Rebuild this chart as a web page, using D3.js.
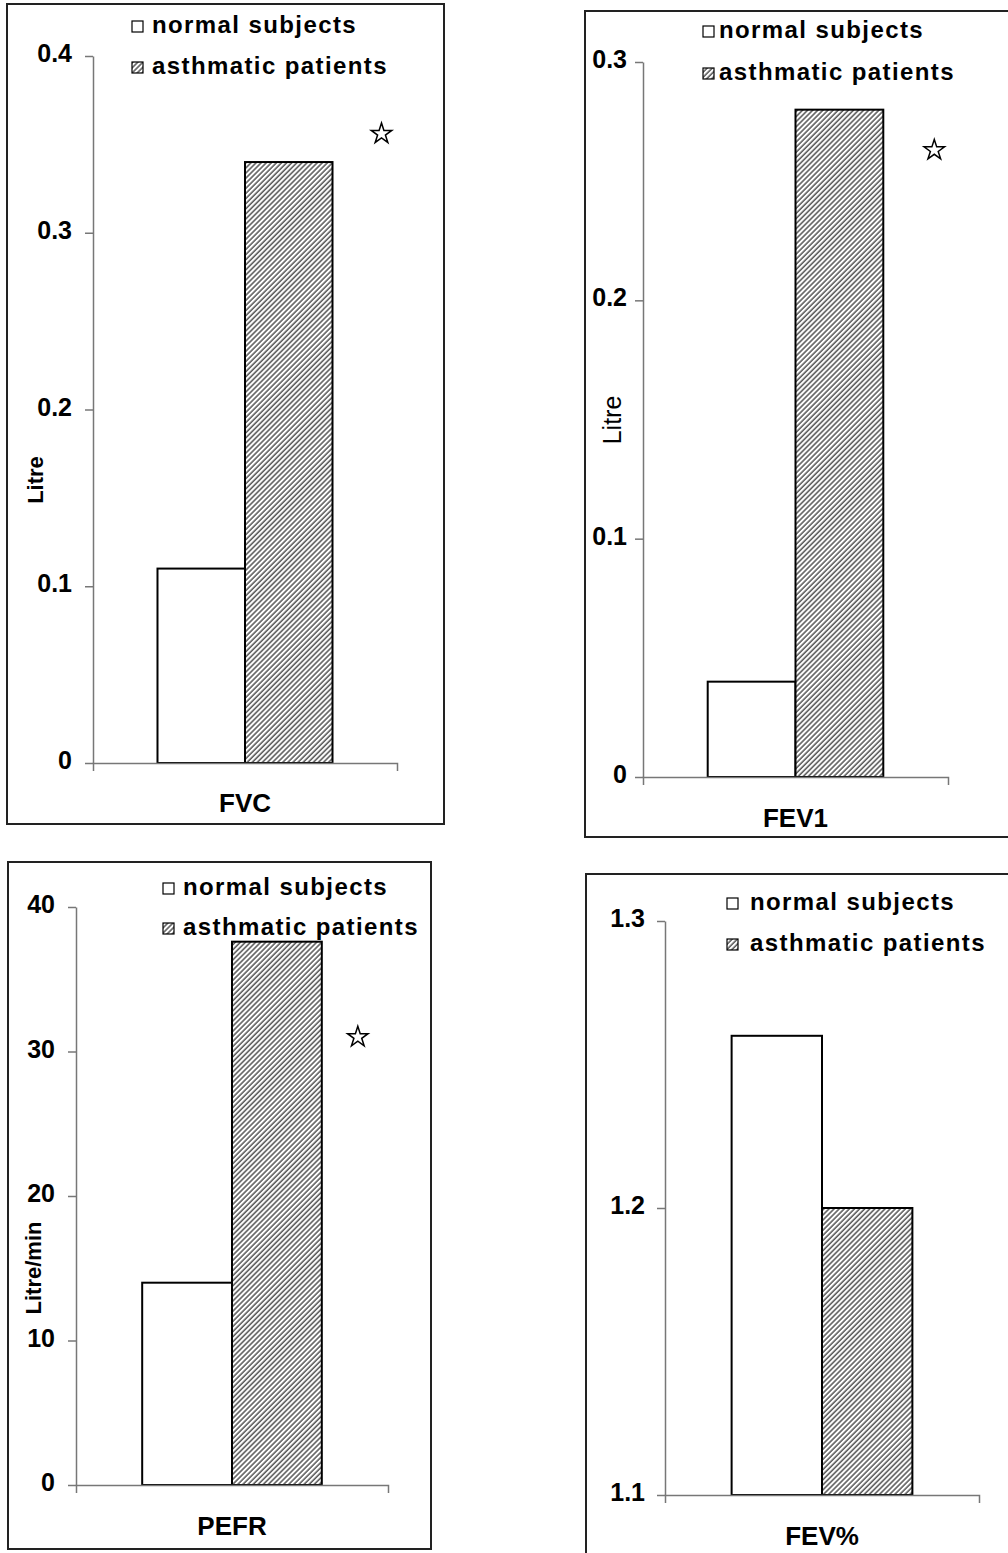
<!DOCTYPE html>
<html><head><meta charset="utf-8">
<script src="https://cdn.jsdelivr.net/npm/d3@7"></script>
<style>
html,body{margin:0;padding:0;background:#fff;}
svg{display:block;font-family:"Liberation Sans",Arial,sans-serif;}
</style></head>
<body>
<svg id="chart" width="1008" height="1553"></svg>
<script>
// ---- data ----
const panelNames = ["FVC", "FEV1", "PEFR", "FEV%"];
const seriesNames = ["normal subjects", "asthmatic patients"];
const normalSubjects = [0.11, 0.04, 14, 1.26];
const asthmaticPatients = [0.34, 0.28, 37.6, 1.2];
const yDomains = [[0, 0.4], [0, 0.3], [0, 40], [1.1, 1.3]];
const yTicks = [[0, 0.1, 0.2, 0.3, 0.4], [0, 0.1, 0.2, 0.3], [0, 10, 20, 30, 40], [1.1, 1.2, 1.3]];
const yTitles = ["Litre", "Litre", "Litre/min", ""];
const starValues = [0.356, 0.263, 31, null];

// ---- layout ----
const layout = [
  {frame:[7,4,444,824], x:[93,397], y:[763,56], legSq:132, legTx:152, legY:[33,74], title:[35,480], titleBold:true, titleSize:22, tickPad:13, starDx:49, labelPad:31},
  {frame:[585,11,1012,837], x:[643,948], y:[777,62], legSq:703, legTx:719, legY:[38,80], title:[612,420], titleBold:false, titleSize:25, tickPad:8, starDx:51, labelPad:32},
  {frame:[8,862,431,1549], x:[76,388], y:[1485,907], legSq:163, legTx:183, legY:[895,935], title:[33,1268], titleBold:true, titleSize:22, tickPad:13, starDx:36, labelPad:32},
  {frame:[586,874,1012,1560], x:[665,979], y:[1495,921], legSq:727, legTx:750, legY:[910,951], title:[620,1200], titleBold:true, titleSize:22, tickPad:12, starDx:40, labelPad:32}
];

const svg = d3.select("#chart");
const defs = svg.append("defs");
const pat = defs.append("pattern").attr("id","hatch")
  .attr("patternUnits","userSpaceOnUse").attr("width",3.6).attr("height",3.6)
  .attr("patternTransform","rotate(45)");
pat.append("rect").attr("width",3.6).attr("height",3.6).attr("fill","#fff");
pat.append("line").attr("x1",1).attr("y1",0).attr("x2",1).attr("y2",3.6)
  .attr("stroke","#3a3a3a").attr("stroke-width",1.3);

const fills = ["#fff", "url(#hatch)"];

panelNames.forEach((name, i) => {
  const L = layout[i];
  const g = svg.append("g");
  // frame
  g.append("rect").attr("x",L.frame[0]).attr("y",L.frame[1])
    .attr("width",L.frame[2]-L.frame[0]).attr("height",L.frame[3]-L.frame[1])
    .attr("fill","none").attr("stroke","#222").attr("stroke-width",2);

  const y = d3.scaleLinear().domain(yDomains[i]).range(L.y);
  const x0 = d3.scaleBand().domain([name]).range(L.x);
  const x1 = d3.scaleBand().domain(seriesNames).range([0, x0.bandwidth()])
    .paddingInner(0).paddingOuter(0.737);

  // y axis
  const ya = g.append("g").attr("transform",`translate(${L.x[0]},0)`)
    .call(d3.axisLeft(y).tickValues(yTicks[i]).tickSize(8).tickSizeOuter(0).tickPadding(L.tickPad)
      .tickFormat(d => (i===2 ? d3.format("d")(d) : d3.format(".1f")(d)).replace(/^0\.0$/,"0")));
  ya.select(".domain").attr("stroke","#777").attr("stroke-width",1.5);
  ya.selectAll(".tick line").attr("stroke","#777").attr("stroke-width",1.5);
  ya.selectAll(".tick text").attr("font-size",25).attr("font-weight","bold").attr("dy","0.22em")
    .attr("fill","#000").attr("font-family","Liberation Sans, Arial, sans-serif");

  // bars
  const vals = [normalSubjects[i], asthmaticPatients[i]];
  g.append("g").selectAll("rect").data(seriesNames).join("rect")
    .attr("x", s => x0(name) + x1(s))
    .attr("width", x1.bandwidth())
    .attr("y", (s,k) => y(vals[k]))
    .attr("height", (s,k) => y(yDomains[i][0]) - y(vals[k]))
    .attr("fill", (s,k) => fills[k])
    .attr("stroke","#000").attr("stroke-width",2);

  // x axis
  const xa = g.append("g").attr("transform",`translate(0,${L.y[0]})`)
    .call(d3.axisBottom(x0).tickSize(0).tickSizeOuter(8).tickPadding(L.labelPad));
  xa.select(".domain").attr("stroke","#777").attr("stroke-width",1.5);
  xa.selectAll(".tick text").attr("font-size",26).attr("font-weight","bold")
    .attr("fill","#000").attr("font-family","Liberation Sans, Arial, sans-serif");

  // y title
  if (yTitles[i]) {
    g.append("text").attr("transform",`translate(${L.title[0]},${L.title[1]}) rotate(-90)`)
      .attr("text-anchor","middle").attr("dominant-baseline","central")
      .attr("font-size",L.titleSize).attr("font-weight", L.titleBold ? "bold" : "normal")
      .text(yTitles[i]);
  }

  // significance star
  if (starValues[i] !== null) {
    g.append("path").attr("d", d3.symbol().type(d3.symbolStar).size(130)())
      .attr("transform",`translate(${x0(name)+x1(seriesNames[1])+x1.bandwidth()+L.starDx},${y(starValues[i])})`)
      .attr("fill","#fff").attr("stroke","#000").attr("stroke-width",1.5);
  }

  // legend
  const lg = g.append("g");
  seriesNames.forEach((s, k) => {
    lg.append("rect").attr("x",L.legSq).attr("y",L.legY[k]-12).attr("width",11).attr("height",11)
      .attr("fill",fills[k]).attr("stroke","#000").attr("stroke-width",1.2);
    lg.append("text").attr("x",L.legTx).attr("y",L.legY[k])
      .attr("font-size",24).attr("font-weight","bold").attr("letter-spacing","1.4px")
      .text(s);
  });
});
</script>
</body></html>
